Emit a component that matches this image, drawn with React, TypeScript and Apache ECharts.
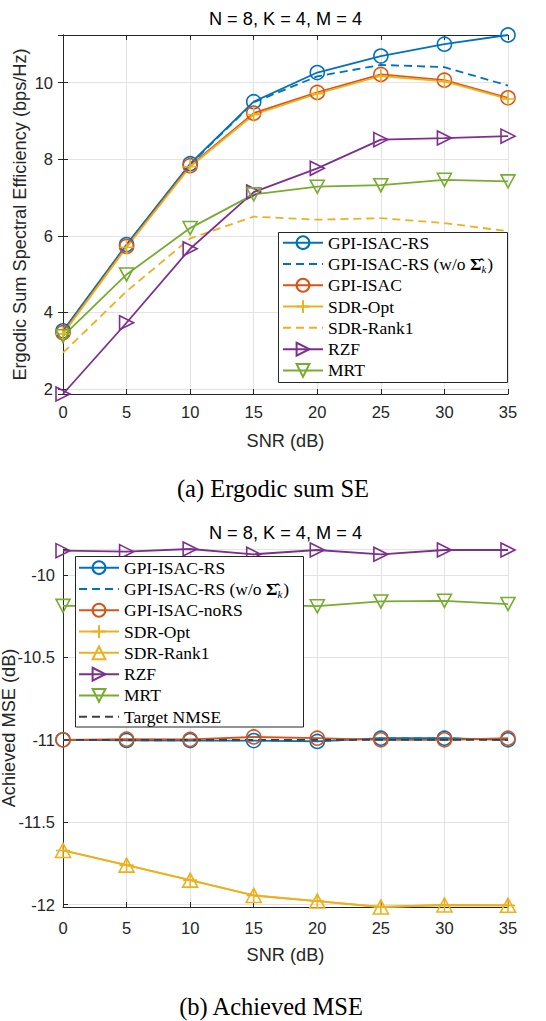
import React, { useEffect, useRef } from 'react';
import * as echarts from 'echarts';

// ---------- data ----------
const snr = [0, 5, 10, 15, 20, 25, 30, 35];

// (a) Ergodic sum SE (bps/Hz)
const seGpiRs = [3.52, 5.77, 7.88, 9.5, 10.26, 10.69, 11.0, 11.24];
const seGpiRsNoSigma = [3.51, 5.76, 7.86, 9.48, 10.16, 10.46, 10.4, 9.92];
const seGpiIsac = [3.47, 5.72, 7.83, 9.2, 9.74, 10.21, 10.06, 9.6];
const seSdrOpt = [3.44, 5.7, 7.8, 9.16, 9.71, 10.17, 10.03, 9.57];
const seSdrRank1 = [2.95, 4.55, 5.93, 6.5, 6.42, 6.46, 6.33, 6.12];
const seRzf = [1.87, 3.73, 5.66, 7.14, 7.76, 8.51, 8.55, 8.6];
const seMrt = [3.38, 4.99, 6.2, 7.08, 7.28, 7.32, 7.46, 7.42];

// (b) Achieved MSE (dB)
const mseGpiRs = [-11.0, -11.004, -11.005, -11.005, -11.01, -10.99, -10.99, -11.0];
const mseGpiRsNoSigma = [-11.0, -11.003, -11.004, -11.004, -11.008, -10.992, -10.991, -11.0];
const mseGpiNoRs = [-11.0, -10.996, -10.998, -10.983, -10.99, -11.0, -11.0, -10.99];
const mseSdrOpt = [-11.671, -11.76, -11.851, -11.944, -11.978, -12.014, -12.002, -12.004];
const mseSdrRank1 = [-11.671, -11.76, -11.851, -11.944, -11.978, -12.014, -12.002, -12.004];
const mseRzf = [-9.853, -9.859, -9.843, -9.875, -9.849, -9.875, -9.849, -9.849];
const mseMrt = [-10.188, -10.19, -10.185, -10.182, -10.19, -10.161, -10.157, -10.177];
const mseTarget = [-11, -11, -11, -11, -11, -11, -11, -11];

const titleText = 'N = 8, K = 4, M = 4';
const captionA = '(a) Ergodic sum SE';
const captionB = '(b) Achieved MSE';

// ---------- styles ----------
const C = {
  blue: '#0072BD',
  orange: '#D95319',
  yellow: '#EDB120',
  purple: '#7E2F8E',
  green: '#77AC30',
  gray: '#404040',
  axis: '#262626',
  grid: '#e3e3e3',
};
const SANS = "'Liberation Sans', Arial, Helvetica, sans-serif";
const SERIF = "'Liberation Serif', 'Times New Roman', serif";

const PLUS = 'path://M5,0L5,10M0,5L10,5';
const TRI_RIGHT = 'path://M0,0L10,5L0,10Z';
const TRI_DOWN = 'path://M0,0L10,0L5,10Z';

const pairs = (arr: number[]) => snr.map((x, i) => [x, arr[i]]);

function mk(
  name: string,
  arr: number[],
  color: string,
  symbol: string,
  dashed: boolean,
  g: number,
  size: number | number[] = 13,
) {
  const noMarker = symbol === 'none';
  return {
    type: 'line',
    name,
    data: pairs(arr),
    xAxisIndex: g === 0 ? 0 : 2,
    yAxisIndex: g === 0 ? 0 : 2,
    symbol: noMarker ? 'circle' : symbol,
    symbolSize: noMarker ? 0 : size,
    showSymbol: !noMarker,
    clip: false,
    lineStyle: { color, width: 1.8, type: dashed ? [8, 5] : 'solid' },
    itemStyle: noMarker
      ? { color: 'rgba(0,0,0,0)', borderColor: 'rgba(0,0,0,0)', borderWidth: 0 }
      : { color: 'rgba(0,0,0,0)', borderColor: color, borderWidth: 1.6 },
    emphasis: { disabled: true },
    z: 2,
  };
}

const topAll = [
  ...seGpiRs, ...seGpiRsNoSigma, ...seGpiIsac, ...seSdrOpt, ...seSdrRank1, ...seRzf, ...seMrt,
];
const botAll = [
  ...mseGpiRs, ...mseGpiRsNoSigma, ...mseGpiNoRs, ...mseSdrOpt, ...mseSdrRank1, ...mseRzf, ...mseMrt, ...mseTarget,
];
const topMin = Math.min(...topAll);
const topMax = Math.max(...topAll);
const botMin = Math.min(...botAll);
const botMax = Math.max(...botAll);

const multOf = (step: number) => (v: number) => {
  const r = v / step;
  return Math.abs(r - Math.round(r)) < 1e-6 ? String(Math.round(v * 10) / 10) : '';
};

const axisLineStyle = { lineStyle: { color: C.axis, width: 1 } };
const tickStyle = { inside: true, length: 5, lineStyle: { color: C.axis, width: 1 } };
const labelText = { fontFamily: SANS, fontSize: 16.5, color: C.axis };
const nameText = { fontFamily: SANS, fontSize: 18.2, color: C.axis };
const split = { show: true, lineStyle: { color: C.grid, width: 1 } };

const legendRich = {
  n: { fontFamily: SERIF, fontSize: 17.5, color: '#000', lineHeight: 21.3 },
  s: { fontFamily: SERIF, fontSize: 17.5, fontWeight: 'bold', color: '#000', lineHeight: 21.3 },
  k: { fontFamily: SERIF, fontSize: 11, fontStyle: 'italic', color: '#000', lineHeight: 21.3, verticalAlign: 'bottom', padding: [0, 1, 0, 0] },
};
const legendFormatter = (name: string) => {
  const base = name.replace(/^b:/, '');
  if (base.indexOf('w/o') >= 0) return '{n|GPI-ISAC-RS (w/o }{s|Σ̂}{k|k}{n|)}';
  return '{n|' + base + '}';
};

export default function App() {
  const ref = useRef<HTMLDivElement>(null);
  useEffect(() => {
    if (!ref.current) return;
    const chart = echarts.init(ref.current, null, { renderer: 'svg' });

    const topSeries = [
      mk('GPI-ISAC-RS', seGpiRs, C.blue, 'circle', false, 0, 14),
      mk('GPI-ISAC-RS (w/o Σ̂k)', seGpiRsNoSigma, C.blue, 'none', true, 0),
      mk('GPI-ISAC', seGpiIsac, C.orange, 'circle', false, 0, 14),
      mk('SDR-Opt', seSdrOpt, C.yellow, PLUS, false, 0, 14),
      mk('SDR-Rank1', seSdrRank1, C.yellow, 'none', true, 0),
      mk('RZF', seRzf, C.purple, TRI_RIGHT, false, 0, [14, 14]),
      mk('MRT', seMrt, C.green, TRI_DOWN, false, 0, [14, 13]),
    ];
    const botSeries = [
      mk('b:GPI-ISAC-RS', mseGpiRs, C.blue, 'circle', false, 1, 14),
      mk('b:GPI-ISAC-RS (w/o Σ̂k)', mseGpiRsNoSigma, C.blue, 'none', true, 1),
      mk('b:GPI-ISAC-noRS', mseGpiNoRs, C.orange, 'circle', false, 1, 14),
      mk('b:SDR-Opt', mseSdrOpt, C.yellow, PLUS, false, 1, 14),
      mk('b:SDR-Rank1', mseSdrRank1, C.yellow, 'triangle', false, 1, [15, 14]),
      mk('b:RZF', mseRzf, C.purple, TRI_RIGHT, false, 1, [14, 14]),
      mk('b:MRT', mseMrt, C.green, TRI_DOWN, false, 1, [14, 13]),
      mk('b:Target NMSE', mseTarget, C.gray, 'none', true, 1),
    ];

    const legendCommon = {
      orient: 'vertical',
      itemWidth: 40,
      itemHeight: 16,
      itemGap: 0,
      padding: 0,
      selectedMode: false,
      formatter: legendFormatter,
      textStyle: { fontFamily: SERIF, fontSize: 17.5, color: '#000', lineHeight: 21.3, rich: legendRich },
      z: 6,
    };

    chart.setOption({
      animation: false,
      backgroundColor: '#ffffff',
      grid: [
        { left: 63, top: 35, width: 445, height: 359, containLabel: false, outerBoundsMode: 'none' },
        { left: 63, top: 549, width: 445, height: 358, containLabel: false, outerBoundsMode: 'none' },
      ],
      xAxis: [
        {
          gridIndex: 0, type: 'value', min: 0, max: 35, interval: 5, position: 'bottom',
          axisLine: axisLineStyle, axisTick: tickStyle,
          axisLabel: { ...labelText, margin: 9.5 },
          splitLine: split,
          name: 'SNR (dB)', nameLocation: 'middle', nameGap: 38, nameMoveOverlap: false, nameTextStyle: nameText,
        },
        {
          gridIndex: 0, type: 'value', min: 0, max: 35, interval: 5, position: 'top',
          axisLine: axisLineStyle, axisTick: tickStyle,
          axisLabel: { show: false }, splitLine: { show: false },
        },
        {
          gridIndex: 1, type: 'value', min: 0, max: 35, interval: 5, position: 'bottom',
          axisLine: axisLineStyle, axisTick: tickStyle,
          axisLabel: { ...labelText, margin: 12.5 },
          splitLine: split,
          name: 'SNR (dB)', nameLocation: 'middle', nameGap: 39, nameMoveOverlap: false, nameTextStyle: nameText,
        },
      ],
      yAxis: [
        {
          gridIndex: 0, type: 'value', min: topMin, max: topMax, position: 'left',
          axisLine: { show: true, ...axisLineStyle }, axisTick: tickStyle,
          axisLabel: { ...labelText, margin: 10, formatter: multOf(2) },
          splitLine: split,
          name: 'Ergodic Sum Spectral Efficiency (bps/Hz)', nameLocation: 'middle', nameGap: 34,
          nameMoveOverlap: false,
          nameTextStyle: nameText,
        },
        {
          gridIndex: 0, type: 'value', min: topMin, max: topMax, position: 'right',
          axisLine: { show: true, ...axisLineStyle }, axisTick: tickStyle,
          axisLabel: { show: false }, splitLine: { show: false },
        },
        {
          gridIndex: 1, type: 'value', min: botMin, max: botMax, position: 'left',
          axisLine: { show: true, ...axisLineStyle }, axisTick: tickStyle,
          axisLabel: { ...labelText, margin: 8, formatter: multOf(0.5) },
          splitLine: split,
          name: 'Achieved MSE (dB)', nameLocation: 'middle', nameGap: 45,
          nameMoveOverlap: false,
          nameTextStyle: nameText,
        },
      ],
      legend: [
        { ...legendCommon, left: 282, top: 232, data: topSeries.map((s) => s.name) },
        { ...legendCommon, left: 78, top: 557, data: botSeries.map((s) => s.name) },
      ],
      graphic: [
        {
          type: 'rect', z: 5, shape: { x: 278.5, y: 232.5, width: 229, height: 150 },
          style: { fill: '#fff', stroke: C.axis, lineWidth: 1 },
        },
        {
          type: 'rect', z: 5, shape: { x: 75.5, y: 556.5, width: 228, height: 170.5 },
          style: { fill: '#fff', stroke: C.axis, lineWidth: 1 },
        },
        {
          type: 'text', z: 7, x: 285.5, y: 19,
          style: { text: titleText, font: `18.2px ${SANS}`, fill: '#000', align: 'center', verticalAlign: 'middle' },
        },
        {
          type: 'text', z: 7, x: 285.5, y: 533,
          style: { text: titleText, font: `18.2px ${SANS}`, fill: '#000', align: 'center', verticalAlign: 'middle' },
        },
        {
          type: 'text', z: 7, x: 273, y: 488,
          style: { text: captionA, font: `24.5px ${SERIF}`, fill: '#000', align: 'center', verticalAlign: 'middle' },
        },
        {
          type: 'text', z: 7, x: 271, y: 1006,
          style: { text: captionB, font: `24.5px ${SERIF}`, fill: '#000', align: 'center', verticalAlign: 'middle' },
        },
      ],
      series: [...topSeries, ...botSeries],
    });

    return () => chart.dispose();
  }, []);

  return (
    <div
      ref={ref}
      style={{ position: 'fixed', left: 0, top: 0, width: 546, height: 1021, background: '#fff' }}
    />
  );
}
